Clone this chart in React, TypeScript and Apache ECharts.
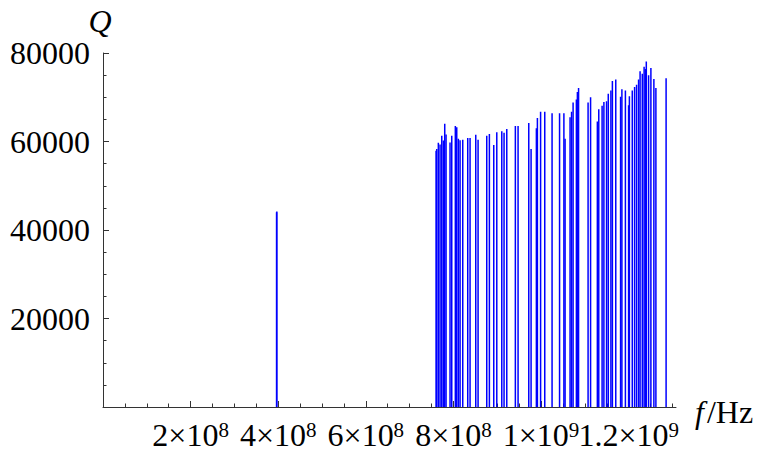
import React, { useEffect, useRef } from "react";
import * as echarts from "echarts";

// Resonance frequencies (Hz) and quality factors Q
const frequencies: number[] = [
  3.962e8, 3.968e8,
  7.603e8, 7.619e8, 7.655e8, 7.694e8, 7.733e8, 7.769e8, 7.801e8, 7.831e8,
  7.922e8, 7.961e8, 8.043e8, 8.075e8, 8.112e8, 8.151e8, 8.212e8, 8.326e8,
  8.379e8, 8.509e8, 8.562e8, 8.760e8, 8.820e8, 8.920e8, 8.989e8, 9.103e8,
  9.155e8, 9.217e8, 9.413e8, 9.475e8, 9.719e8, 9.772e8, 9.893e8, 9.916e8,
  9.989e8, 10.084e8, 10.251e8, 10.422e8, 10.521e8, 10.548e8, 10.662e8,
  10.696e8, 10.731e8, 10.806e8, 10.829e8, 10.856e8, 11.073e8, 11.130e8,
  11.285e8, 11.317e8, 11.393e8, 11.434e8, 11.495e8, 11.534e8, 11.594e8,
  11.628e8, 11.705e8, 11.815e8, 11.845e8, 11.925e8, 11.998e8, 12.016e8,
  12.082e8, 12.135e8, 12.180e8, 12.226e8, 12.260e8, 12.311e8, 12.352e8,
  12.381e8, 12.402e8, 12.454e8, 12.507e8, 12.575e8, 12.621e8, 12.854e8,
];
const qValues: number[] = [
  44000, 44200,
  57900, 58300, 59700, 59300, 61300, 60200, 64000, 61600,
  59800, 61300, 63500, 63200, 60600, 60300, 60400, 60800,
  60800, 61500, 60400, 61300, 61700, 59200, 62100, 62300,
  62000, 62800, 63500, 63500, 64200, 58300, 63000, 65300,
  66700, 66700, 66400, 66400, 66400, 60600, 65500,
  66700, 68800, 69500, 71200, 72100, 68800, 70000,
  64500, 67300, 68100, 68900, 69100, 70800, 71500,
  73700, 74000, 70100, 71800, 71500, 68200, 70200,
  71500, 72300, 72800, 74000, 75900, 75300, 76900,
  76400, 78100, 75000, 76600, 74100, 72100, 74300,
];

// Axis ticks
const xMajorTicks: number[] = [2e8, 4e8, 6e8, 8e8, 1e9, 1.2e9];
const xTickMantissas: string[] = ["2", "4", "6", "8", "1", "1.2"];
const xTickExponents: string[] = ["8", "8", "8", "8", "9", "9"];
const xMinorStep = 5e7;
const xMax = 1.308e9;
const yMax = 80000;
const yInterval = 20000;

const FONT = "Liberation Serif";
const FS = 32;

export default function App() {
  const ref = useRef<HTMLDivElement>(null);

  useEffect(() => {
    if (!ref.current) return;
    const chart = echarts.init(ref.current, null, { renderer: "svg" });

    const minorTicks: number[] = [];
    for (let v = xMinorStep; v <= 1.3e9 + 1; v += xMinorStep) minorTicks.push(Math.round(v));

    const data = frequencies.map((f, i) => [f, qValues[i]]);

    const xFormatter = (v: number) => {
      const i = xMajorTicks.findIndex((t) => Math.abs(t - v) < 1);
      if (i < 0) return "";
      return `{m|${xTickMantissas[i]}×10}{s|${xTickExponents[i]}}`;
    };
    const xRich = {
      m: { fontFamily: FONT, fontSize: FS, lineHeight: 32, color: "#000" },
      s: { fontFamily: FONT, fontSize: 21, lineHeight: 16, verticalAlign: "top", color: "#000" },
    };
    const lastTick = xMajorTicks[xMajorTicks.length - 1];
    const otherTicks = xMajorTicks.slice(0, xMajorTicks.length - 1);

    chart.setOption({
      animation: false,
      backgroundColor: "#fff",
      textStyle: { fontFamily: FONT },
      grid: {
        left: 103,
        right: 90,
        top: 53,
        bottom: 46,
        containLabel: false,
        outerBoundsMode: "none",
      },
      xAxis: [
        {
          type: "value",
          position: "bottom",
          min: 0,
          max: xMax,
          interval: xMinorStep,
          axisLine: { show: true, onZero: false, lineStyle: { color: "#333", width: 1 } },
          axisTick: {
            show: true,
            inside: true,
            length: 3.5,
            customValues: minorTicks,
            lineStyle: { color: "#333" },
          },
          axisLabel: {
            show: true,
            margin: 12,
            customValues: [lastTick],
            hideOverlap: false,
            fontFamily: FONT,
            fontSize: FS,
            formatter: xFormatter,
            rich: xRich,
          },
          splitLine: { show: false },
          name: "{i|f}{n|/Hz}",
          nameLocation: "end",
          nameGap: 19,
          nameTextStyle: {
            fontFamily: FONT,
            fontSize: FS,
            padding: [10, 0, 0, 0],
            rich: {
              i: { fontFamily: FONT, fontSize: FS, fontStyle: "italic", color: "#000", padding: [0, 3, 0, 0] },
              n: { fontFamily: FONT, fontSize: FS, color: "#000" },
            },
          },
        },
        {
          type: "value",
          position: "bottom",
          min: 0,
          max: xMax,
          interval: xMinorStep,
          axisLine: { show: false, onZero: false },
          axisTick: {
            show: true,
            inside: true,
            length: 6,
            customValues: xMajorTicks,
            lineStyle: { color: "#333" },
          },
          axisLabel: {
            show: true,
            margin: 12,
            customValues: otherTicks,
            hideOverlap: false,
            fontFamily: FONT,
            fontSize: FS,
            formatter: xFormatter,
            rich: xRich,
          },
          splitLine: { show: false },
        },
      ],
      yAxis: {
        type: "value",
        min: 0,
        max: yMax,
        interval: yInterval,
        axisLine: { show: true, onZero: false, lineStyle: { color: "#333", width: 1 } },
        axisTick: { show: true, inside: true, length: 6, lineStyle: { color: "#333" } },
        minorTick: { show: true, splitNumber: 4, length: 3.5, lineStyle: { color: "#333" } },
        axisLabel: {
          margin: 13,
          fontFamily: FONT,
          fontSize: FS,
          color: "#000",
          showMaxLabel: true,
          formatter: (v: number) => (v === 0 ? "" : String(v)),
        },
        splitLine: { show: false },
        name: "Q",
        nameLocation: "end",
        nameGap: 14,
        nameTextStyle: {
          fontFamily: FONT,
          fontSize: FS,
          fontStyle: "italic",
          color: "#000",
          align: "center",
          padding: [0, 6, 0, 0],
        },
      },
      series: [
        {
          type: "custom",
          xAxisIndex: 0,
          yAxisIndex: 0,
          data,
          encode: { x: 0, y: 1 },
          renderItem: (params: any, api: any) => {
            const f = api.value(0);
            const q = api.value(1);
            const p0 = api.coord([f, 0]);
            const p1 = api.coord([f, q]);
            return {
              type: "line",
              shape: { x1: p0[0], y1: p0[1], x2: p1[0], y2: p1[1] },
              style: { stroke: "#0000ff", lineWidth: 1.5 },
            };
          },
        },
      ],
    });

    return () => chart.dispose();
  }, []);

  return (
    <div
      ref={ref}
      style={{ position: "absolute", left: 0, top: 0, width: 766, height: 453, background: "#fff" }}
    />
  );
}
